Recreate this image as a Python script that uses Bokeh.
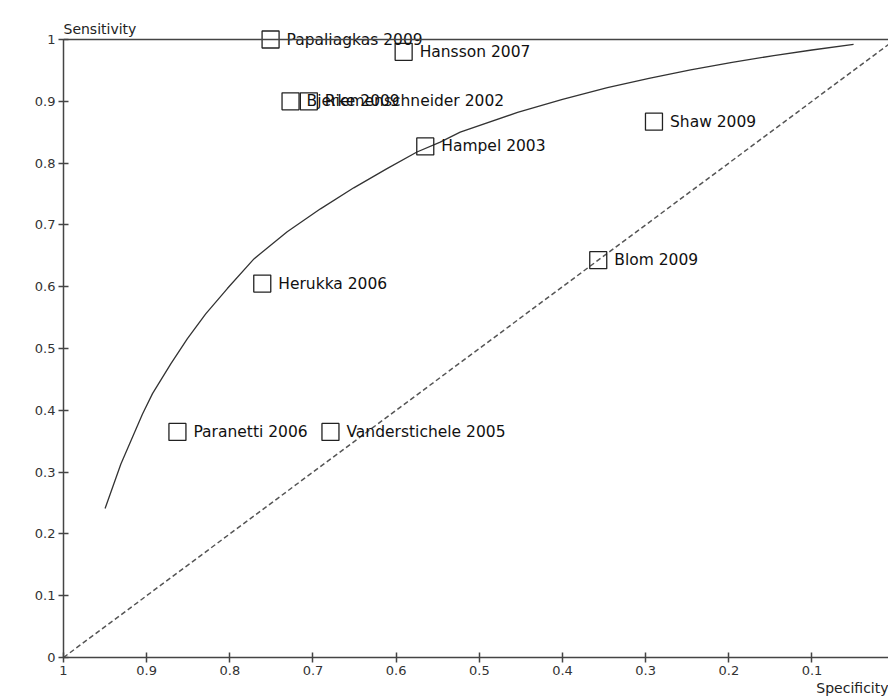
from bokeh.plotting import figure
from bokeh.models import Range1d, FixedTicker, Span, Label, Title
from bokeh.core.properties import value
from bokeh.embed import file_html
from bokeh.resources import INLINE

# ---- data ----
studies = ["Papaliagkas 2009", "Hansson 2007", "Bjerke 2009", "Riemenschneider 2002",
           "Shaw 2009", "Hampel 2003", "Blom 2009", "Herukka 2006",
           "Paranetti 2006", "Vanderstichele 2005"]
specificity = [0.751, 0.591, 0.727, 0.705, 0.290, 0.565, 0.357, 0.761, 0.863, 0.679]
sensitivity = [1.000, 0.980, 0.900, 0.900, 0.867, 0.827, 0.643, 0.605, 0.365, 0.365]

sroc_spec = [0.950, 0.931, 0.905, 0.893, 0.871, 0.851, 0.829, 0.803, 0.771, 0.731,
             0.691, 0.651, 0.611, 0.575, 0.547, 0.523, 0.454, 0.400, 0.346, 0.296,
             0.246, 0.196, 0.146, 0.100, 0.050]
sroc_sens = [0.241, 0.313, 0.394, 0.427, 0.475, 0.516, 0.556, 0.597, 0.645, 0.689,
             0.726, 0.760, 0.791, 0.818, 0.834, 0.850, 0.882, 0.903, 0.922, 0.937,
             0.951, 0.963, 0.974, 0.983, 0.992]

diag_spec = [1.0, 0.0]
diag_sens = [0.0, 1.0]

x_ticks = [1.0, 0.9, 0.8, 0.7, 0.6, 0.5, 0.4, 0.3, 0.2, 0.1]
x_tick_labels = ["1", "0.9", "0.8", "0.7", "0.6", "0.5", "0.4", "0.3", "0.2", "0.1"]
y_ticks = [0.0, 0.1, 0.2, 0.3, 0.4, 0.5, 0.6, 0.7, 0.8, 0.9, 1.0]
y_tick_labels = ["0", "0.1", "0.2", "0.3", "0.4", "0.5", "0.6", "0.7", "0.8", "0.9", "1"]

x_title = "Specificity"
y_title = "Sensitivity"

FONT = "DejaVu Sans"
AXIS = "#444444"

p = figure(width=888, height=696, output_backend="svg", toolbar_location=None,
           x_range=Range1d(1, 0.008), y_range=Range1d(0, 1 + 25 / 618),
           min_border_left=63, min_border_right=0, min_border_top=14, min_border_bottom=39)
p.outline_line_color = None
p.xgrid.visible = False
p.ygrid.visible = False
p.background_fill_color = "white"
p.border_fill_color = "white"

for ax, ticks, labels in ((p.xaxis[0], x_ticks, x_tick_labels), (p.yaxis[0], y_ticks, y_tick_labels)):
    ax.ticker = FixedTicker(ticks=ticks)
    ax.major_label_overrides = dict(zip(ticks, labels))
    ax.axis_line_color = AXIS
    ax.axis_line_width = 1.5
    ax.major_tick_line_color = AXIS
    ax.major_tick_line_width = 1.5
    ax.major_tick_in = 5
    ax.major_tick_out = 5
    ax.minor_tick_line_color = None
    ax.major_label_text_font = FONT
    ax.major_label_text_font_size = "13px"
    ax.major_label_text_color = "#333333"
    ax.major_label_standoff = 3
p.yaxis[0].bounds = (0, 1)

p.add_layout(Span(location=1, dimension="width", line_color=AXIS, line_width=1.5))

p.line(diag_spec, diag_sens, line_color="#555555", line_width=1.5, line_dash="5 3")
p.line(sroc_spec, sroc_sens, line_color="#333333", line_width=1.3)
p.scatter(specificity, sensitivity, marker="square", size=17, fill_color=None,
          line_color="#222222", line_width=1.3)
p.text(x=specificity, y=sensitivity, text=studies, x_offset=16, text_baseline="middle",
       text_align="left", text_font=value(FONT), text_font_size="15.5px", text_color="#111111")

p.add_layout(Label(x=1, y=1, text=y_title, x_offset=0, y_offset=3, text_baseline="bottom",
                   text_align="left", text_font=FONT, text_font_size="14px", text_color="#222222"))
p.add_layout(Title(text=x_title, align="right", text_font=FONT, text_font_size="14px",
                   text_font_style="normal", text_color="#222222", standoff=0), "below")

open("out.html", "w").write(file_html(p, INLINE))
